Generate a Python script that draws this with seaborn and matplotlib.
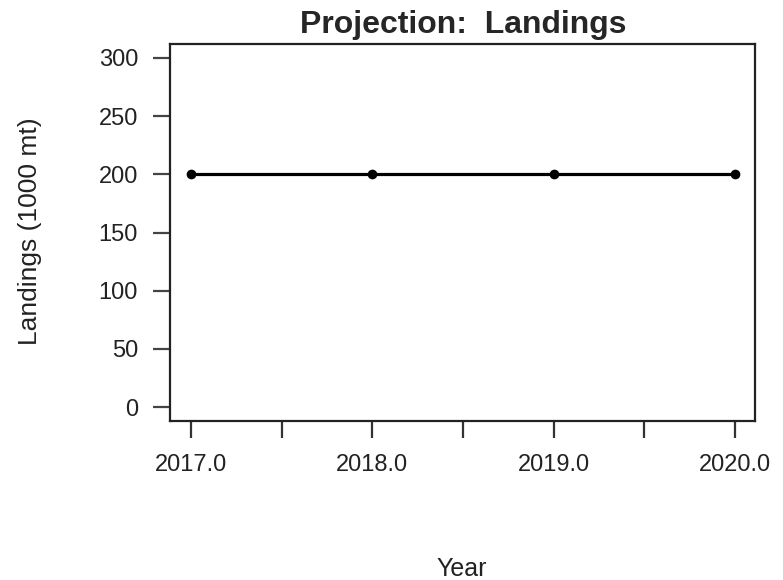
import numpy as np
import pandas as pd
import seaborn as sns
import matplotlib.pyplot as plt

# 数据
years = [2017, 2018, 2019, 2020]
landings = [200, 200, 200, 200]
y_ticks = [0, 50, 100, 150, 200, 250, 300]
x_ticks = [2017, 2018, 2019, 2020]
x_minor = [2017.5, 2018.5, 2019.5]

df = pd.DataFrame({'Year': years, 'Landings': landings})

sns.set_style('white')
plt.rcParams['font.family'] = ['Liberation Sans', 'DejaVu Sans']

W, H = 783, 580
fig = plt.figure(figsize=(W / 100, H / 100), dpi=100)
ax = fig.add_axes([170 / W, 1 - 421 / H, 585 / W, 377 / H])

sns.lineplot(data=df, x='Year', y='Landings', ax=ax, color='black',
             linewidth=2.3, marker='o', markersize=7, markeredgewidth=0)

ax.set_xlim(2016.885, 2020.11)
ax.set_ylim(-12, 312)

for s in ax.spines.values():
    s.set_color('#222222')
    s.set_linewidth(1.6)

ax.set_xticks(x_ticks)
ax.set_xticklabels([f'{v:.1f}' for v in x_ticks])
ax.set_xticks(x_minor, minor=True)
ax.set_yticks(y_ticks)
ax.tick_params(axis='x', which='both', direction='out', length=12, width=1.6,
               color='#333333', bottom=True, pad=12, labelsize=17, labelcolor='#222222')
ax.tick_params(axis='y', direction='out', length=12, width=1.6, color='#444444',
               left=True, pad=11, labelsize=17, labelcolor='#222222')

ax.set_xlabel('')
ax.set_ylabel('')
fig.text(463 / W, 1 - 25 / H, 'Projection:  Landings', fontsize=23, fontweight='bold',
         ha='center', va='center')
fig.text(462 / W, 1 - 569 / H, 'Year', fontsize=18, ha='center', va='center', color='#222222')
fig.text(30 / W, 1 - 231 / H, 'Landings (1000 mt)', fontsize=19, rotation=90,
         ha='center', va='center', color='#222222')

fig.savefig('out.png', dpi=100)
